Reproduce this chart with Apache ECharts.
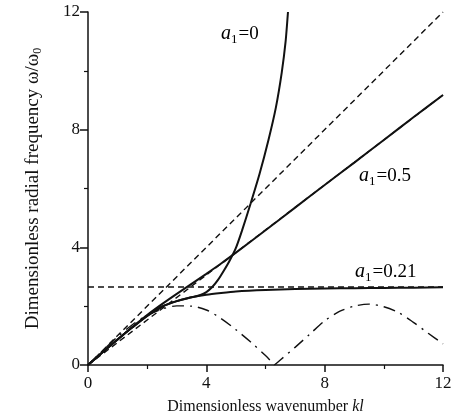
<!DOCTYPE html>
<html>
<head>
<meta charset="utf-8">
<script src="https://cdn.jsdelivr.net/npm/echarts@6/dist/echarts.min.js"></script>
<style>
  html, body { margin: 0; padding: 0; background: #fff; }
  #chart { width: 468px; height: 420px; }
</style>
</head>
<body>
<div id="chart"></div>
<script>
// axis ticks
var xTicks = [0, 4, 8, 12];
var yTicks = [0, 4, 8, 12];

// dashed reference lines
var lineSlope1 = [[0, 0], [12, 12]];
var lineSlope05 = [[0, 0], [12, 9.18]];
var lineFlat = [[0, 2.65], [12, 2.65]];

// solid curves
var curveA0 = [
  [0, 0], [0.5, 0.44], [1, 0.87], [1.5, 1.28], [2, 1.67], [2.5, 1.98], [3, 2.17],
  [3.5, 2.3], [3.8, 2.38], [4.0, 2.48], [4.2, 2.65], [4.4, 2.9], [4.6, 3.22],
  [4.8, 3.57], [5.0, 3.98], [5.2, 4.55], [5.5, 5.5], [5.8, 6.5], [6.1, 7.65],
  [6.35, 8.75], [6.55, 9.95], [6.68, 11.0], [6.76, 12]
];
var curveA021 = [
  [0, 0], [0.5, 0.44], [1, 0.87], [1.5, 1.28], [2, 1.67], [2.5, 1.98], [3, 2.17],
  [3.5, 2.3], [4, 2.39], [4.5, 2.45], [5, 2.5], [6, 2.55], [7, 2.58], [8, 2.6],
  [9, 2.61], [10, 2.62], [11, 2.63], [12, 2.64]
];
var curveA05 = [
  [0, 0], [0.5, 0.44], [1, 0.87], [1.5, 1.29], [2, 1.7], [2.5, 2.07], [3, 2.42],
  [3.5, 2.76], [4, 3.1], [4.5, 3.45], [5, 3.82], [6, 4.58], [7, 5.35], [8, 6.12],
  [9, 6.88], [10, 7.65], [11, 8.42], [12, 9.18]
];

// dash-dot curve, split at the cusp
var dashDotLeft = [
  [0, 0], [0.5, 0.49], [1, 0.96], [1.5, 1.37], [2, 1.69], [2.5, 1.9], [3, 2.01],
  [3.5, 2.0], [4, 1.87], [4.5, 1.58], [5, 1.2], [5.5, 0.78], [6, 0.32], [6.3, 0]
];
var dashDotRight = [
  [6.3, 0], [6.5, 0.17], [7, 0.6], [7.5, 1.05], [8, 1.5], [8.5, 1.82], [9, 2.0],
  [9.5, 2.07], [10, 1.98], [10.5, 1.78], [11, 1.45], [11.5, 1.08], [12, 0.72]
];

var serif = '"Liberation Serif", "DejaVu Serif", serif';

var chart = echarts.init(document.getElementById('chart'), null, { renderer: 'canvas' });

function solid(data) {
  return {
    type: 'line', data: data, smooth: 0.2, symbol: 'none',
    lineStyle: { color: '#111', width: 2 }, z: 3
  };
}
function dashed(data) {
  return {
    type: 'line', data: data, symbol: 'none',
    lineStyle: { color: '#111', width: 1.4, type: [6, 4] }, z: 2
  };
}
function dashDot(data) {
  return {
    type: 'line', data: data, smooth: 0.3, symbol: 'none',
    lineStyle: { color: '#111', width: 1.4, type: [12, 6, 2, 6] }, z: 2
  };
}

var subRich = {
  it: { fontFamily: serif, fontStyle: 'italic', fontSize: 20, color: '#111' },
  n: { fontFamily: serif, fontSize: 19, color: '#111' },
  sub: { fontFamily: serif, fontSize: 13, color: '#111', padding: [11, 1, 0, 0] }
};

function tag(x, y, rest) {
  return {
    type: 'text', left: x, top: y,
    style: { text: '{it|a}{sub|1}{n|' + rest + '}', rich: subRich }
  };
}

var option = {
  backgroundColor: '#ffffff',
  animation: false,
  grid: { left: 88, right: 25, top: 12, bottom: 55 },
  xAxis: {
    type: 'value', min: 0, max: 12, interval: 4,
    name: '{n|Dimensionless wavenumber }{it|kl}',
    nameLocation: 'middle', nameGap: 34,
    nameTextStyle: {
      rich: {
        n: { fontFamily: serif, fontSize: 16, color: '#111' },
        it: { fontFamily: serif, fontSize: 16, fontStyle: 'italic', color: '#111' }
      }
    },
    axisLine: { lineStyle: { color: '#111', width: 1.5 } },
    axisTick: { length: 7, lineStyle: { color: '#111', width: 1.5 } },
    minorTick: { show: true, splitNumber: 2, length: 4, lineStyle: { color: '#111', width: 1.2 } },
    axisLabel: { fontFamily: serif, fontSize: 17, color: '#111', margin: 10,
      formatter: function (v) { return xTicks.indexOf(v) >= 0 ? String(v) : ''; } },
    splitLine: { show: false }
  },
  yAxis: {
    type: 'value', min: 0, max: 12, interval: 4,
    name: '{n|Dimensionless radial frequency ω/ω}{sub|0}',
    nameLocation: 'middle', nameGap: 44,
    nameTextStyle: {
      rich: {
        n: { fontFamily: serif, fontSize: 19, color: '#111' },
        sub: { fontFamily: serif, fontSize: 12, color: '#111', padding: [10, 0, 0, 0] }
      }
    },
    axisLine: { lineStyle: { color: '#111', width: 1.5 } },
    axisTick: { length: 8, lineStyle: { color: '#111', width: 1.5 } },
    minorTick: { show: true, splitNumber: 2, length: 4, lineStyle: { color: '#111', width: 1.2 } },
    axisLabel: { fontFamily: serif, fontSize: 17, color: '#111', margin: 8,
      formatter: function (v) { return yTicks.indexOf(v) >= 0 ? String(v) : ''; } },
    splitLine: { show: false }
  },
  series: [
    dashed(lineSlope1),
    dashed(lineSlope05),
    dashed(lineFlat),
    dashDot(dashDotLeft),
    dashDot(dashDotRight),
    solid(curveA021),
    solid(curveA05),
    solid(curveA0)
  ],
  graphic: [
    tag(221, 24, '=0'),
    tag(359, 166, '=0.5'),
    tag(355, 262, '=0.21')
  ]
};

chart.setOption(option);
</script>
</body>
</html>
